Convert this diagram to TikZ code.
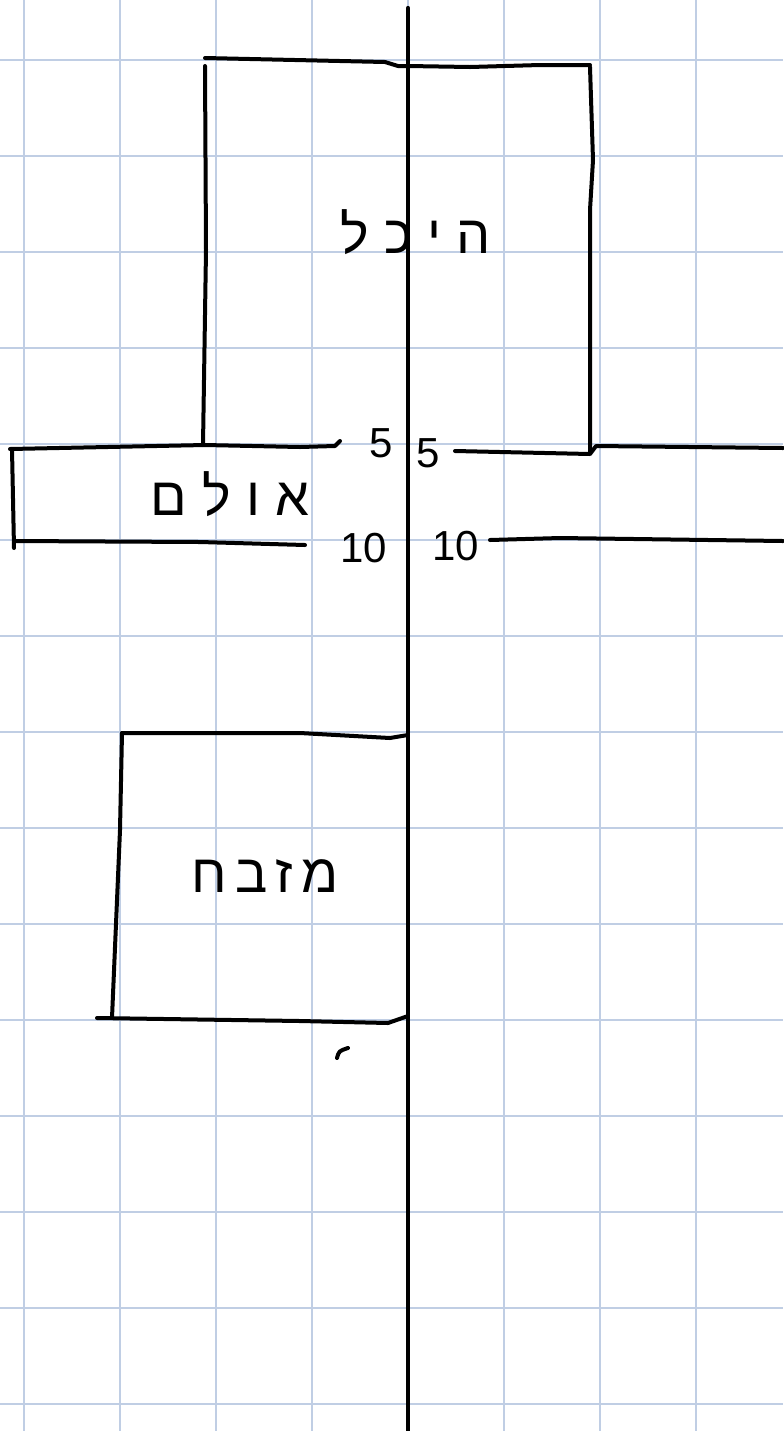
\documentclass[tikz,border=0pt]{standalone}
\usepackage{fontspec}
\newfontfamily\hebfont[Script=Hebrew]{Liberation Sans}
\TeXXeTstate=1
\usetikzlibrary{positioning}
\definecolor{gridblue}{RGB}{192,206,228}
\tikzstyle{gridline}=[draw=gridblue, line width=0.8pt]
\tikzstyle{pen}=[draw=black, line width=2pt, line cap=round, line join=round]
\tikzstyle{hebtext}=[inner sep=0pt, font=\hebfont\fontsize{27}{30}\selectfont]
\tikzstyle{measure}=[inner sep=0pt, font=\hebfont\fontsize{21}{24}\selectfont]

\begin{document}
\begin{tikzpicture}[x=0.5pt, y=-0.5pt]
	\useasboundingbox (0,0) rectangle (783,1431);
	\fill[white] (0,0) rectangle (783,1431);

	% grid paper
	\foreach \gx in {24,120,...,696}
		\draw[gridline] (\gx,0) -- (\gx,1431);
	\foreach \gy in {60,156,...,1404}
		\draw[gridline] (0,\gy) -- (783,\gy);

	% axis
	\coordinate (AxisTop) at (408,8);
	\coordinate (AxisBottom) at (408,1431);
	\draw[pen, line width=2.1pt] (AxisTop) -- (AxisBottom);

	% heichal
	\draw[pen] (205,58) -- (385,62) -- (398,66) -- (408,66) -- (470,67) -- (540,65) -- (590,65);
	\draw[pen] (205,66) -- (206,250) -- (203,445);
	\draw[pen] (590,67) -- (593,160) -- (590,210) -- (590,453);
	\draw[pen] (455,451) -- (590,454) -- (596,446) -- (783,448);

	% ulam
	\draw[pen] (10,449) -- (205,445) -- (300,447) -- (335,446) -- (340,441);
	\draw[pen] (12,449) -- (14,548);
	\draw[pen] (14,541) -- (200,542) -- (305,545);
	\draw[pen] (490,540) -- (560,538) -- (783,541);

	% mizbeach
	\draw[pen] (122,733) -- (300,733) -- (390,738) -- (408,735);
	\draw[pen] (122,733) -- (120,830) -- (112,1018);
	\draw[pen] (97,1018) -- (300,1021) -- (388,1023) -- (408,1016);
	\draw[pen] (337,1058) .. controls (339,1051) .. (348,1048);

	% labels
	\node (Heichal) [hebtext] at (416,232) {\beginR ה י כ ל\endR};
	\node (Ulam) [hebtext] at (230,494) {\beginR א ו ל ם\endR};
	\node (Mizbeach) [hebtext] at (265,876) {\beginR מ\kern4pt ז\kern4pt ב\kern4pt ח\endR};

	\node (FiveLeft) [measure] at (381,443) {5};
	\node (FiveRight) [measure] at (428,453) {5};
	\node (TenLeft) [measure] at (364,548) {10};
	\node (TenRight) [measure] at (456,546) {10};

\end{tikzpicture}
\end{document}
